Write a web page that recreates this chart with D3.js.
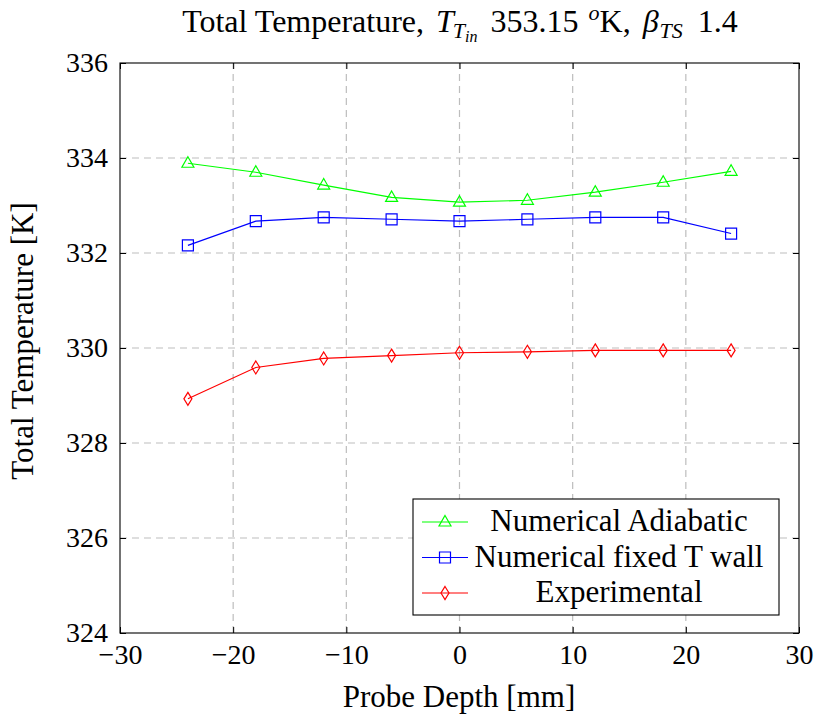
<!DOCTYPE html>
<html>
<head>
<meta charset="utf-8">
<script src="https://cdn.jsdelivr.net/npm/d3@7"></script>
<style>
  body { margin: 0; background: #fff; }
</style>
</head>
<body>
<svg></svg>
<script>
var width = 817;
var height = 718;
var margin = {left: 120, right: 18, top: 63, bottom: 85}; // プロット枠
var serif = "'Liberation Serif', 'DejaVu Serif', serif";

// データ
var depth = [-24, -18, -12, -6, 0, 6, 12, 18, 24];
var adiabatic = [333.89, 333.70, 333.43, 333.17, 333.07, 333.11, 333.28, 333.49, 333.72];
var fixedWall = [332.16, 332.67, 332.75, 332.71, 332.67, 332.71, 332.75, 332.75, 332.41];
var experimental = [328.93, 329.59, 329.78, 329.84, 329.90, 329.92, 329.95, 329.95, 329.95];
var xTicks = [-30, -20, -10, 0, 10, 20, 30];
var yTicks = [324, 326, 328, 330, 332, 334, 336];
var seriesNames = ["Numerical Adiabatic", "Numerical fixed T wall", "Experimental"];

var svg = d3.select("svg").attr("width", width).attr("height", height)
  .style("font-family", serif);

var xScale = d3.scaleLinear().domain([-30, 30]).range([margin.left, width - margin.right]);
var yScale = d3.scaleLinear().domain([324, 336]).range([height - margin.bottom, margin.top]);

// グリッド
svg.append("g")
  .selectAll("line")
  .data(xTicks.slice(1, -1))
  .enter().append("line")
  .attr("x1", function(d) { return xScale(d); })
  .attr("x2", function(d) { return xScale(d); })
  .attr("y1", yScale(324)).attr("y2", yScale(336))
  .attr("stroke", "#bdbdbd").attr("stroke-width", 1.2).attr("stroke-dasharray", "7,5");
svg.append("g")
  .selectAll("line")
  .data(yTicks.slice(1, -1))
  .enter().append("line")
  .attr("y1", function(d) { return yScale(d); })
  .attr("y2", function(d) { return yScale(d); })
  .attr("x1", xScale(-30)).attr("x2", xScale(30))
  .attr("stroke", "#bdbdbd").attr("stroke-width", 1.2).attr("stroke-dasharray", "7,5");

// 軸
function styleAxis(g) {
  g.attr("font-family", null).attr("font-size", null);
  g.select(".domain").remove();
  g.selectAll(".tick line").attr("stroke", "#000").attr("stroke-width", 1);
  g.selectAll(".tick text")
    .style("font-family", serif)
    .style("font-size", "28px")
    .attr("fill", "#000");
}
var fmt = function(d) { return d < 0 ? "\u2212" + Math.abs(d) : d; };

svg.append("g")
  .attr("transform", "translate(0," + yScale(324) + ")")
  .call(d3.axisBottom(xScale).tickValues(xTicks).tickFormat(fmt).tickSizeInner(-6).tickSizeOuter(0).tickPadding(11))
  .call(styleAxis);
svg.append("g")
  .attr("transform", "translate(0," + yScale(336) + ")")
  .call(d3.axisTop(xScale).tickValues(xTicks).tickFormat("").tickSizeInner(-6).tickSizeOuter(0))
  .call(styleAxis);
svg.append("g")
  .attr("transform", "translate(" + xScale(-30) + ",0)")
  .call(d3.axisLeft(yScale).tickValues(yTicks).tickSizeInner(-6).tickSizeOuter(0).tickPadding(12))
  .call(styleAxis);
svg.append("g")
  .attr("transform", "translate(" + xScale(30) + ",0)")
  .call(d3.axisRight(yScale).tickValues(yTicks).tickFormat("").tickSizeInner(-6).tickSizeOuter(0))
  .call(styleAxis);

svg.append("rect")
  .attr("x", xScale(-30)).attr("y", yScale(336))
  .attr("width", xScale(30) - xScale(-30)).attr("height", yScale(324) - yScale(336))
  .attr("fill", "none").attr("stroke", "#000").attr("stroke-width", 1.1);

// シリーズ
var series = [
  {name: seriesNames[0], values: adiabatic, color: "#00ff00", sym: "tri"},
  {name: seriesNames[1], values: fixedWall, color: "#0000ff", sym: "sq"},
  {name: seriesNames[2], values: experimental, color: "#ff0000", sym: "dia"}
];

function markerPath(sym) {
  if (sym == "tri") return "M0,-6.5L6,4L-6,4Z";
  if (sym == "sq") return "M-5.5,-5.5H5.5V5.5H-5.5Z";
  return "M0,-6.5L4,0L0,6.5L-4,0Z";
}

var line = d3.line()
  .x(function(d) { return xScale(d[0]); })
  .y(function(d) { return yScale(d[1]); });

series.forEach(function(s) {
  var pts = depth.map(function(x, i) { return [x, s.values[i]]; });
  svg.append("path")
    .datum(pts)
    .attr("d", line)
    .attr("fill", "none")
    .attr("stroke", s.color)
    .attr("stroke-width", 1.2);
  svg.append("g")
    .selectAll("path")
    .data(pts)
    .enter().append("path")
    .attr("transform", function(d) { return "translate(" + xScale(d[0]) + "," + yScale(d[1]) + ")"; })
    .attr("d", markerPath(s.sym))
    .attr("fill", "none")
    .attr("stroke", s.color)
    .attr("stroke-width", 1.2);
});

// 凡例
var legend = svg.append("g");
legend.append("rect")
  .attr("x", 413).attr("y", 499).attr("width", 366).attr("height", 116)
  .attr("fill", "#fff").attr("stroke", "#000").attr("stroke-width", 1.1);
series.forEach(function(s, i) {
  var cy = 522 + i * 35.5;
  legend.append("line")
    .attr("x1", 422).attr("x2", 468).attr("y1", cy).attr("y2", cy)
    .attr("stroke", s.color).attr("stroke-width", 1.2);
  legend.append("path")
    .attr("transform", "translate(445," + cy + ")")
    .attr("d", markerPath(s.sym))
    .attr("fill", "none").attr("stroke", s.color).attr("stroke-width", 1.2);
  legend.append("text")
    .attr("x", 619).attr("y", cy + 9)
    .attr("text-anchor", "middle")
    .style("font-size", "31px")
    .text(s.name);
});

// タイトル
var title = svg.append("text")
  .attr("x", 460).attr("y", 32)
  .attr("text-anchor", "middle")
  .style("font-size", "32px");
title.append("tspan").text("Total Temperature, ");
title.append("tspan").attr("font-style", "italic").attr("dx", 4).text("T");
title.append("tspan").attr("font-style", "italic").attr("dy", 6).attr("dx", -1).style("font-size", "22px").text("T");
title.append("tspan").attr("font-style", "italic").attr("dy", 4).style("font-size", "16px").text("in");
title.append("tspan").attr("dy", -10).attr("dx", 5).text(" 353.15 ");
title.append("tspan").attr("font-style", "italic").attr("dy", -12).attr("dx", 2).style("font-size", "22px").text("o");
title.append("tspan").attr("dy", 12).text("K, ");
title.append("tspan").attr("font-style", "italic").attr("dx", 4).text("\u03b2");
title.append("tspan").attr("font-style", "italic").attr("dy", 6).attr("dx", 1).style("font-size", "22px").text("TS");
title.append("tspan").attr("dy", -6).attr("dx", 7).text(" 1.4");

// 軸ラベル
svg.append("text")
  .attr("x", 459).attr("y", 707)
  .attr("text-anchor", "middle")
  .style("font-size", "31px")
  .text("Probe Depth [mm]");
svg.append("text")
  .attr("transform", "translate(33,341) rotate(-90)")
  .attr("text-anchor", "middle")
  .style("font-size", "31px")
  .text("Total Temperature [K]");
</script>
</body>
</html>
